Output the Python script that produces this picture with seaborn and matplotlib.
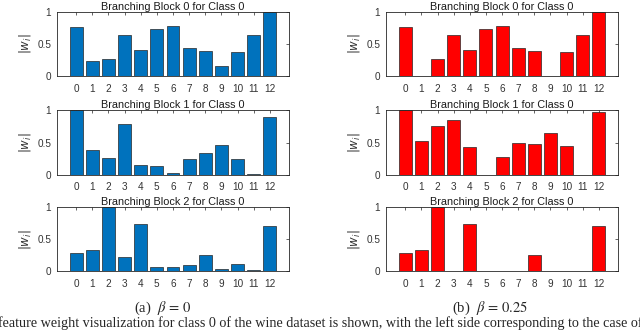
#importing modules
import numpy as np
import pandas as pd
import seaborn as sns
import matplotlib.pyplot as plt

#feature indices of the wine dataset
features = list(range(13))

#beta = 0 (left column)
block0_b0 = [0.76, 0.236, 0.267, 0.644, 0.408, 0.733, 0.785, 0.435, 0.393, 0.152, 0.372, 0.634, 1.0]
block1_b0 = [1.0, 0.383, 0.259, 0.782, 0.145, 0.14, 0.026, 0.244, 0.342, 0.456, 0.244, 0.01, 0.90]
block2_b0 = [0.289, 0.33, 1.0, 0.216, 0.732, 0.067, 0.067, 0.098, 0.258, 0.031, 0.108, 0.021, 0.706]

#beta = 0.25 (right column)
block0_b25 = [0.76, 0.0, 0.267, 0.644, 0.408, 0.733, 0.785, 0.435, 0.393, 0.0, 0.372, 0.634, 1.0]
block1_b25 = [1.0, 0.528, 0.756, 0.855, 0.425, 0.0, 0.28, 0.497, 0.482, 0.642, 0.451, 0.0, 0.969]
block2_b25 = [0.289, 0.33, 1.0, 0.0, 0.732, 0.0, 0.0, 0.0, 0.258, 0.0, 0.0, 0.0, 0.706]

titles = ["Branching Block 0 for Class 0", "Branching Block 1 for Class 0", "Branching Block 2 for Class 0"]
captions = [r"(a)  $\beta\,=\,0$", r"(b)  $\beta\,=\,0.25$"]
bottom_text = ("feature weight visualization for class 0 of the wine dataset is shown, "
               "with the left side corresponding to the case of")

sns.set_style("white")
plt.rcParams['font.family'] = ['Liberation Sans', 'DejaVu Sans']
plt.rcParams['xtick.direction'] = 'in'
plt.rcParams['ytick.direction'] = 'in'


def bar_panel(ax, values, color, title):
    df = pd.DataFrame({"feature": features, "w": values})
    sns.barplot(x="feature", y="w", data=df, color=color, saturation=1,
                edgecolor="#262626", linewidth=0.5, width=0.8, ax=ax)
    ax.set_xlim(-1.2, 13.2)
    ax.set_ylim(0, 1)
    ax.set_yticks([0, 0.5, 1])
    ax.set_yticklabels(["0", "0.5", "1"])
    ax.set_xticks(range(13))
    ax.set_xticklabels([str(f) for f in features])
    ax.tick_params(axis="both", labelsize=7.2, colors="#262626", length=2, width=0.5,
                   top=True, right=True, labelcolor="#333333")
    ax.tick_params(axis="x", pad=5.5)
    ax.tick_params(axis="y", pad=4)
    for s in ax.spines.values():
        s.set_color("#262626")
        s.set_linewidth(0.6)
    ax.set_xlabel("")
    ax.set_ylabel(r"$|w_i|$", fontsize=8.5, color="#333333", labelpad=3,
                  math_fontfamily="dejavusans")
    ax.set_title(title, fontsize=7.8, pad=1.5, color="#1a1a1a")


fig = plt.figure(figsize=(6.4, 3.33), dpi=100)

bottoms = [0.7718, 0.4754, 0.1853]
height = 0.193
left_blocks = [block0_b0, block1_b0, block2_b0]
right_blocks = [block0_b25, block1_b25, block2_b25]

for i in range(3):
    axl = fig.add_axes([0.0886, bottoms[i], 0.3634, height])
    bar_panel(axl, left_blocks[i], "#0072BD", titles[i])
    axr = fig.add_axes([0.603, bottoms[i], 0.363, height])
    bar_panel(axr, right_blocks[i], "#FF0000", titles[i])

fig.text(163 / 640, 1 - 308 / 333, captions[0], ha="center", va="center",
         fontsize=10.5, family=["Liberation Serif"], math_fontfamily="stix")
fig.text(490 / 640, 1 - 308 / 333, captions[1], ha="center", va="center",
         fontsize=10.5, family=["Liberation Serif"], math_fontfamily="stix")
fig.text(-0.003, 1 - 323 / 333, bottom_text, ha="left", va="center",
         fontsize=10.2, family=["Liberation Serif"])

plt.savefig("out.png", dpi=100)
